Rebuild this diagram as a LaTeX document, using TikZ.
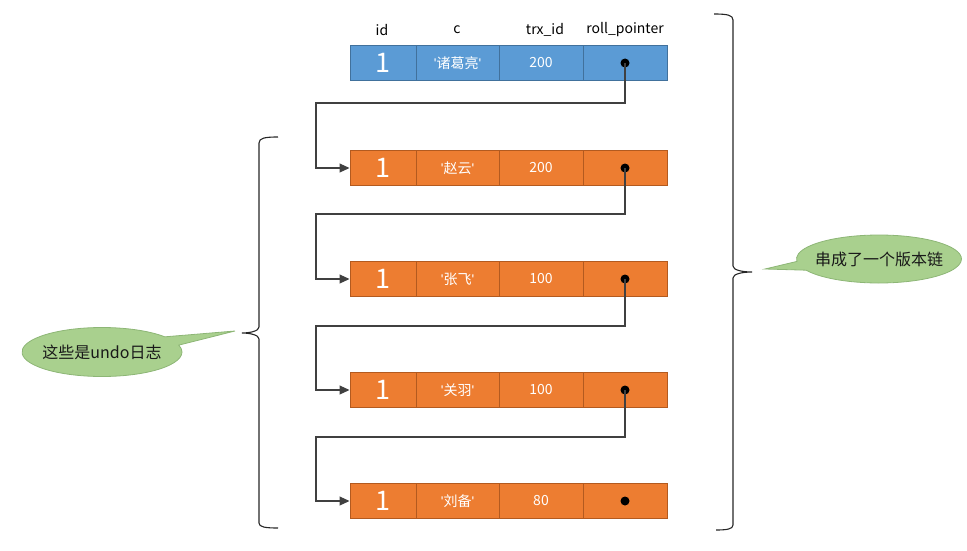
\documentclass[tikz,border=0pt]{standalone}
\usepackage{fontspec}
\setmainfont{Noto Sans CJK SC}
\newfontfamily\latinq{Liberation Sans}
\usetikzlibrary{arrows.meta,shapes.callouts}
\definecolor{bluefill}{HTML}{5B9BD5}
\definecolor{blueline}{HTML}{41719C}
\definecolor{orfill}{HTML}{ED7D31}
\definecolor{orline}{HTML}{B35A1F}
\definecolor{greenfill}{HTML}{A9D08E}
\definecolor{greenline}{HTML}{8DB676}
\definecolor{linegray}{HTML}{404040}
\newcommand{\q}{{\latinq\textquotesingle}}
\tikzset{
  cell/.style={draw, line width=1pt, minimum height=35pt, inner sep=0pt, text=white, font=\fontsize{14}{16}\selectfont},
  bluecell/.style={cell, fill=bluefill, draw=blueline},
  orcell/.style={cell, fill=orfill, draw=orline},
  hdr/.style={font=\fontsize{14}{16}\selectfont, text=black},
  dot/.style={circle, fill=black, inner sep=0pt, minimum size=9pt},
  ptr/.style={draw=linegray, line width=1.1pt, -{Triangle[length=10pt,width=9pt]}},
  bracestyle/.style={draw=black!85, line width=1.1pt},
  bubble/.style={ellipse callout, fill=greenfill, draw=greenline, line width=0.8pt, inner sep=0pt, callout pointer arc=22},
  bubbletext/.style={label={[text=black!90, font=\fontsize{16}{18}\selectfont]center:#1}},
}
\newcommand{\mkrow}[5]{%
  \node[#2, minimum width=66pt] (#1a) at (383,#3) {\fontsize{27}{30}\selectfont 1};
  \node[#2, minimum width=83pt] (#1b) at (457.5,#3) {\q#4\q};
  \node[#2, minimum width=84pt] (#1c) at (541,#3) {#5};
  \node[#2, minimum width=84pt] (#1d) at (625,#3) {};
  \node[dot] (#1p) at (625,#3) {};
}
\begin{document}
\begin{tikzpicture}[x=1pt,y=-1pt]
\useasboundingbox (0,0) rectangle (967,551);
% headers
\node[hdr] (hid) at (382,30) {id};
\node[hdr] (hc) at (457,30) {c};
\node[hdr] (htrx) at (545,30) {trx\_id};
\node[hdr] (hrp) at (625,30) {roll\_pointer};
% rows
\mkrow{r0}{bluecell}{63}{诸葛亮}{200}
\mkrow{r1}{orcell}{168}{赵云}{200}
\mkrow{r2}{orcell}{279}{张飞}{100}
\mkrow{r3}{orcell}{390}{关羽}{100}
\mkrow{r4}{orcell}{501}{刘备}{80}
% connectors
\coordinate (k0) at (316,103);
\coordinate (k1) at (316,214);
\coordinate (k2) at (316,326);
\coordinate (k3) at (316,437);
\draw[ptr] (r0p.center) |- (k0) |- (r1a.west);
\draw[ptr] (r1p.center) |- (k1) |- (r2a.west);
\draw[ptr] (r2p.center) |- (k2) |- (r3a.west);
\draw[ptr] (r3p.center) |- (k3) |- (r4a.west);
% braces
\coordinate (lbt) at (278,137);
\coordinate (lbtip) at (242,333);
\coordinate (lbb) at (278,528);
\draw[bracestyle] (lbt) .. controls (265,137) and (259,138) .. (259,143) -- (259,327)
  .. controls (259,331) and (250,333) .. (lbtip)
  .. controls (250,333) and (259,335) .. (259,339) -- (259,523)
  .. controls (259,527) and (265,528) .. (lbb);
\coordinate (rbt) at (714,14);
\coordinate (rbtip) at (752,272);
\coordinate (rbb) at (716,530);
\draw[bracestyle] (rbt) .. controls (727,14) and (733,15) .. (733,20) -- (733,266)
  .. controls (733,270) and (742,272) .. (rbtip)
  .. controls (742,272) and (733,274) .. (733,278) -- (733,525)
  .. controls (733,529) and (727,530) .. (rbb);
% callouts
\node[bubble, minimum width=160pt, minimum height=49pt, callout absolute pointer={(235,331)}, bubbletext={这些是undo日志}] (cl) at (102,352) {};
\node[bubble, minimum width=165pt, minimum height=48pt, callout absolute pointer={(765,269)}, bubbletext={串成了一个版本链}] (cr) at (879,259) {};
\end{tikzpicture}
\end{document}
